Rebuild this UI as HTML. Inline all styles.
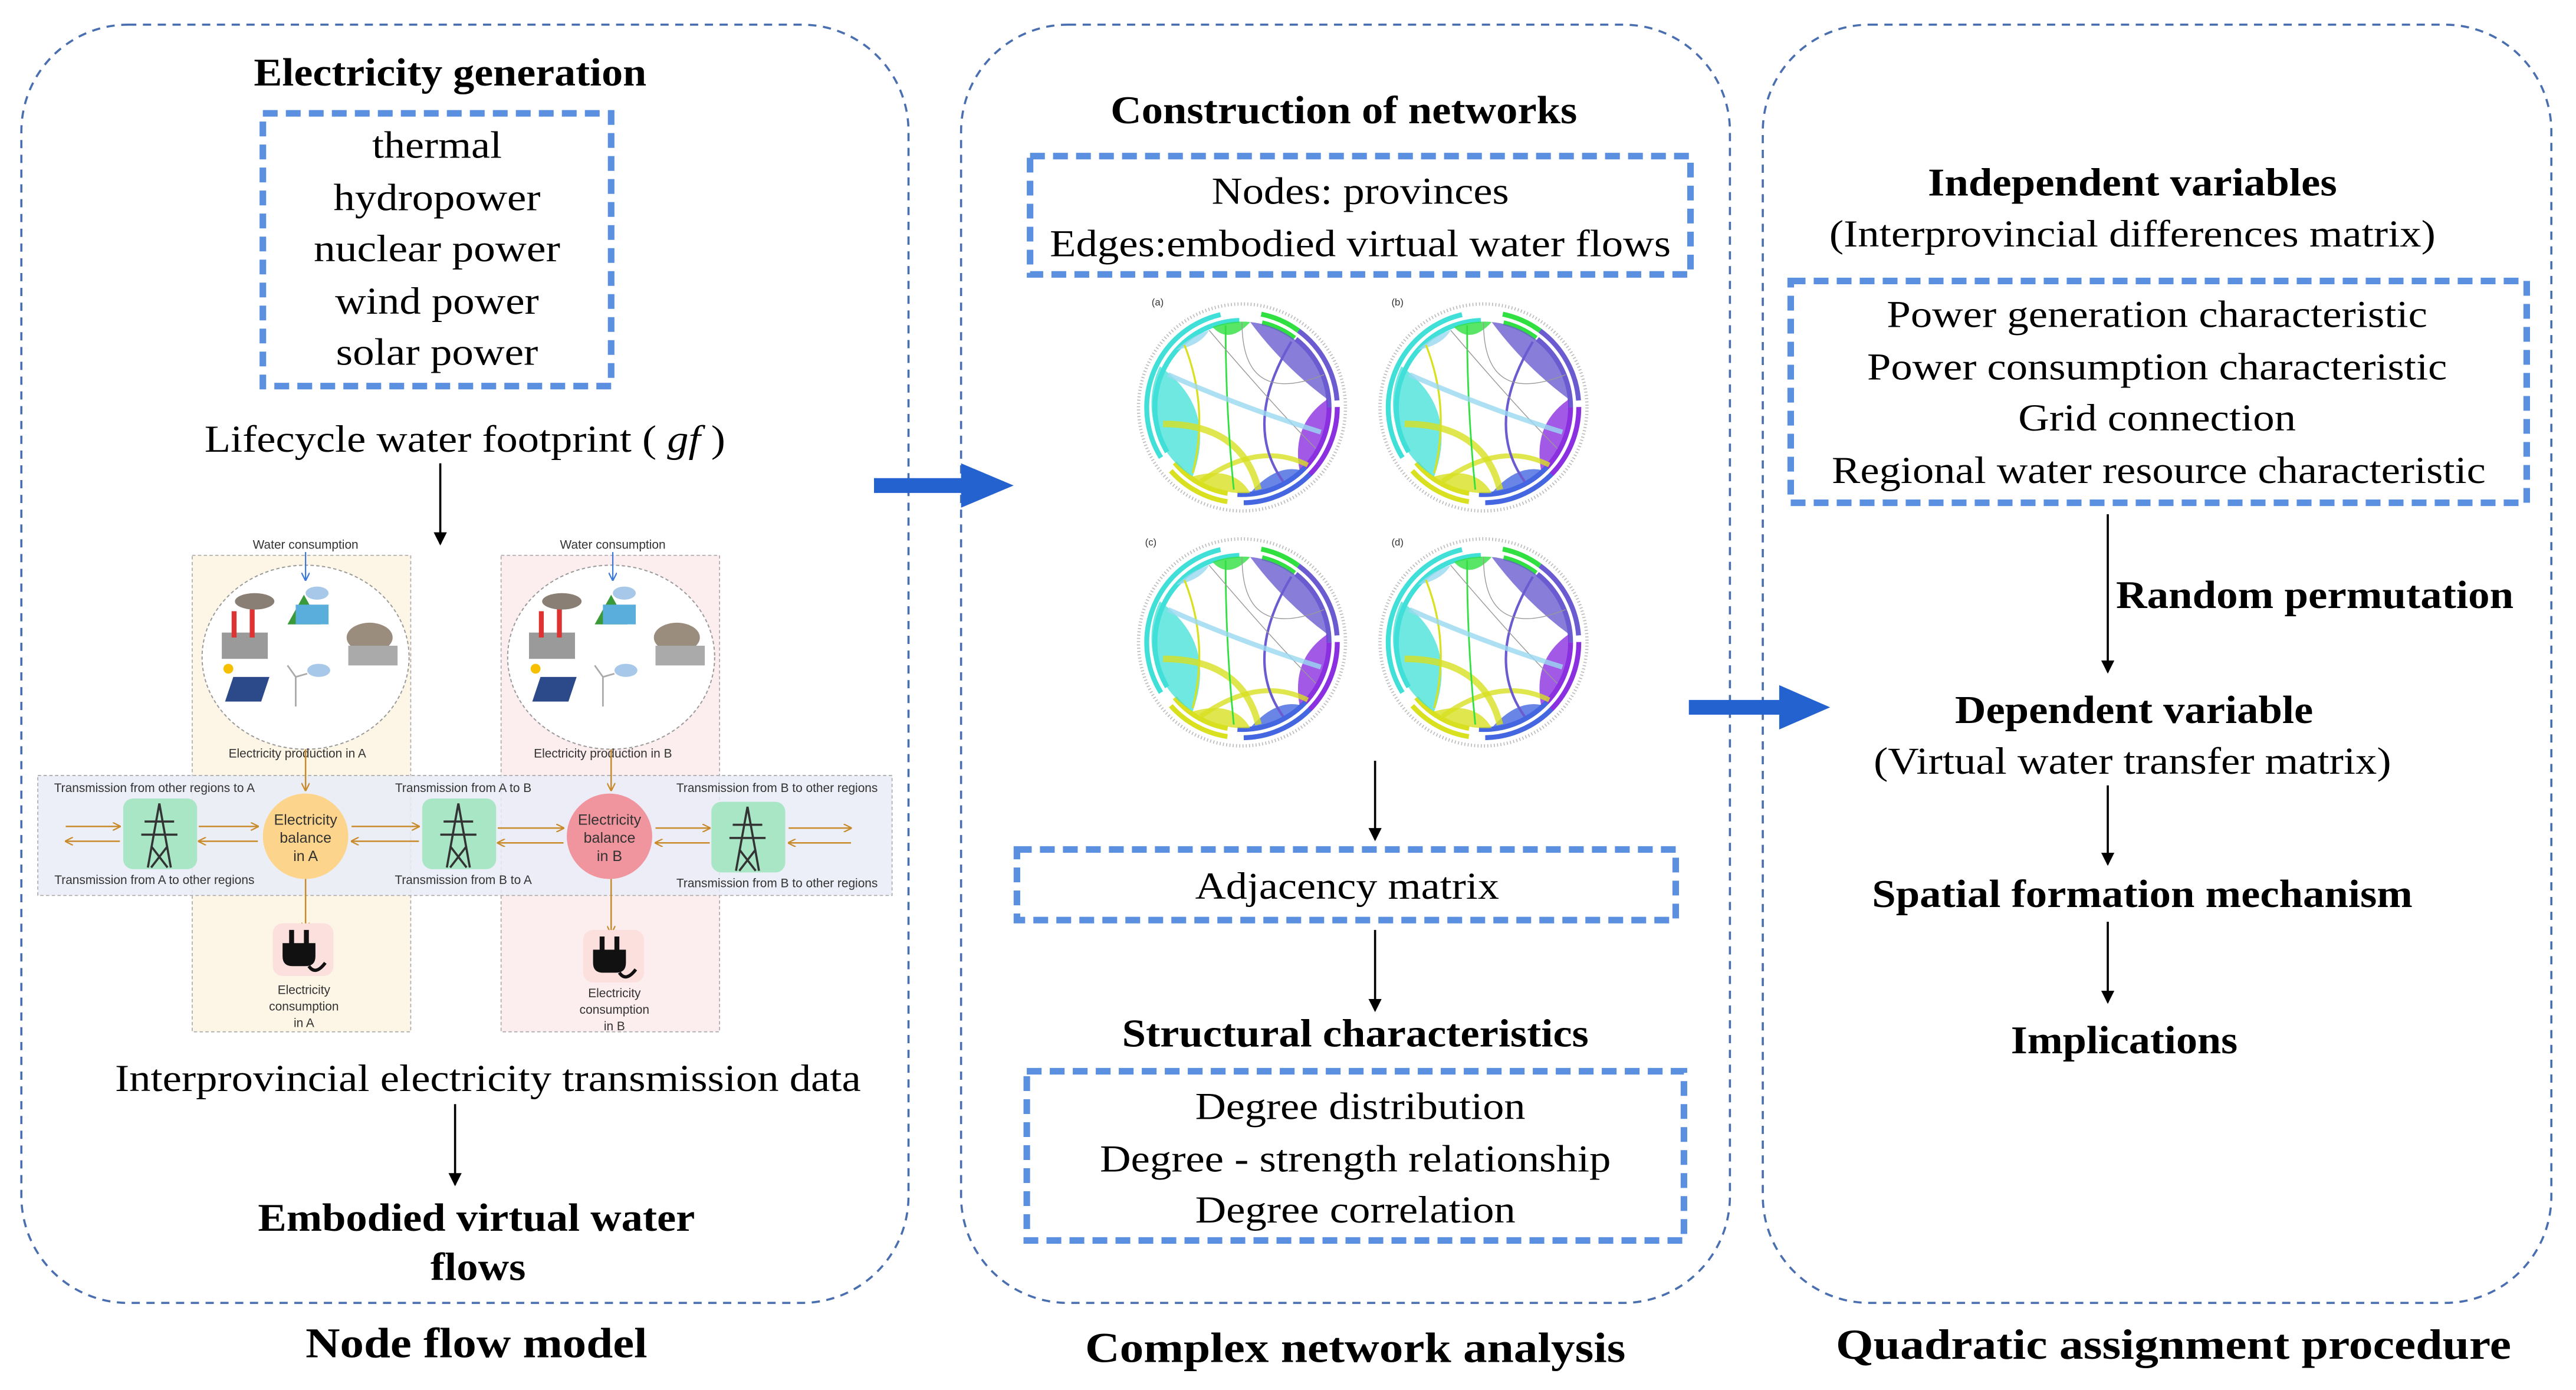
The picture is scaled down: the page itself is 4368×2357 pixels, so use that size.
<!DOCTYPE html>
<html><head><meta charset="utf-8"><style>
html,body{margin:0;padding:0;background:#fff;}
svg{display:block;}
text{font-family:"Liberation Serif",serif;fill:#000;}
.b{font-weight:bold;}
.s{font-family:"Liberation Sans",sans-serif;fill:#333;}
</style></head><body>
<svg width="4368" height="2357" viewBox="0 0 1568 846" preserveAspectRatio="none" xmlns="http://www.w3.org/2000/svg">
<defs>
<marker id="ak" markerWidth="8" markerHeight="8" refX="7" refY="4" orient="auto" markerUnits="userSpaceOnUse"><path d="M0,0 L8,4 L0,8 Z" fill="#000"/></marker>
<marker id="ao" markerWidth="5" markerHeight="5" refX="4.5" refY="2.5" orient="auto" markerUnits="userSpaceOnUse"><path d="M0,0 L5,2.5 L0,5" fill="none" stroke="#c98a2a" stroke-width="0.8"/></marker>
<marker id="ab" markerWidth="5" markerHeight="5" refX="4.5" refY="2.5" orient="auto" markerUnits="userSpaceOnUse"><path d="M0,0 L5,2.5 L0,5" fill="none" stroke="#3c78d8" stroke-width="0.8"/></marker>
<g id="chord">
  <circle r="63" fill="none" stroke="#bbb" stroke-width="2" stroke-dasharray="0.6 1.4"/>
  <circle r="58" fill="none" stroke="#40e0d8" stroke-width="3" stroke-dasharray="110 254" stroke-dashoffset="-150"/>
  <circle r="58" fill="none" stroke="#d8e020" stroke-width="3" stroke-dasharray="40 324" stroke-dashoffset="-100"/>
  <circle r="58" fill="none" stroke="#4466e0" stroke-width="3" stroke-dasharray="50 314" stroke-dashoffset="-40"/>
  <circle r="58" fill="none" stroke="#8a30e0" stroke-width="3" stroke-dasharray="45 319" stroke-dashoffset="0"/>
  <circle r="58" fill="none" stroke="#6a5cd0" stroke-width="3" stroke-dasharray="50 314" stroke-dashoffset="-310"/>
  <circle r="58" fill="none" stroke="#30e040" stroke-width="3" stroke-dasharray="25 339" stroke-dashoffset="-285"/>
  <circle r="53" fill="none" stroke="#40e0d8" stroke-width="3" stroke-dasharray="110 223" stroke-dashoffset="-138"/>
  <circle r="53" fill="none" stroke="#d8e020" stroke-width="3" stroke-dasharray="38 295" stroke-dashoffset="-92"/>
  <circle r="53" fill="none" stroke="#4466e0" stroke-width="3" stroke-dasharray="48 285" stroke-dashoffset="-38"/>
  <circle r="53" fill="none" stroke="#8a30e0" stroke-width="3" stroke-dasharray="40 293" stroke-dashoffset="0"/>
  <circle r="53" fill="none" stroke="#6a5cd0" stroke-width="3" stroke-dasharray="48 285" stroke-dashoffset="-285"/>
  <circle r="53" fill="none" stroke="#30e040" stroke-width="3" stroke-dasharray="22 311" stroke-dashoffset="-262"/>
  <path d="M-50,-25 A52,52 0 0 0 -30,42 Q-15,0 -50,-25Z" fill="#40e0d8" opacity="0.75"/>
  <path d="M-40,-35 A52,52 0 0 1 -20,-47 Q-25,-38 -40,-35Z" fill="#9ad8f0" opacity="0.8"/>
  <path d="M-30,42 A52,52 0 0 0 5,52 Q-5,35 -30,42Z" fill="#d8e020" opacity="0.8"/>
  <path d="M5,52 A52,52 0 0 0 35,38 Q20,35 5,52Z" fill="#4466e0" opacity="0.8"/>
  <path d="M35,38 A52,52 0 0 0 52,-5 Q30,10 35,38Z" fill="#8a30e0" opacity="0.8"/>
  <path d="M52,-5 A52,52 0 0 0 5,-52 Q25,-25 52,-5Z" fill="#6a5cd0" opacity="0.8"/>
  <path d="M5,-52 A52,52 0 0 0 -18,-49 Q-8,-38 5,-52Z" fill="#30e040" opacity="0.8"/>
  <path d="M-48,10 Q0,10 10,50" fill="none" stroke="#d8e020" stroke-width="4" opacity="0.8"/>
  <path d="M-25,45 Q10,20 40,35" fill="none" stroke="#d8e020" stroke-width="3" opacity="0.8"/>
  <path d="M30,-40 Q0,10 25,45" fill="none" stroke="#6a5cd0" stroke-width="1.5"/>
  <path d="M-10,-50 Q-10,0 -5,50" fill="none" stroke="#30e040" stroke-width="1"/>
  <path d="M-35,-38 Q-20,0 -30,40" fill="none" stroke="#d8e020" stroke-width="1.2"/>
  <path d="M-20,-47 Q20,0 45,25" fill="none" stroke="#999" stroke-width="0.5"/>
  <path d="M0,-52 Q0,0 50,-20" fill="none" stroke="#999" stroke-width="0.5"/>
  <path d="M-45,-20 Q0,0 48,15" fill="none" stroke="#9ad8f0" stroke-width="3" opacity="0.8"/>
</g>
</defs>

<g fill="none" stroke="#4a6fb0" stroke-width="1.3" stroke-dasharray="5 4">
<rect x="13" y="15" width="540" height="778" rx="65"/>
<rect x="585" y="15" width="468" height="778" rx="65"/>
<rect x="1073" y="15" width="480" height="778" rx="65"/>
</g>

<path d="M532,291 H585 V282 L617,295.5 L585,309 V300 H532Z" fill="#2462d0"/>
<path d="M1028,426 H1083 V417 L1114,430.5 L1083,444 V435 H1028Z" fill="#2462d0"/>

<text x="274" y="52" text-anchor="middle" class="b" font-size="24" textLength="239" lengthAdjust="spacingAndGlyphs">Electricity generation</text>
<rect x="160" y="69" width="212" height="166" fill="none" stroke="#5b8fe0" stroke-width="4" stroke-dasharray="9 5"/>
<g font-size="23" text-anchor="middle">
<text x="266" y="96" textLength="79" lengthAdjust="spacingAndGlyphs">thermal</text>
<text x="266" y="128" textLength="126" lengthAdjust="spacingAndGlyphs">hydropower</text>
<text x="266" y="159" textLength="150" lengthAdjust="spacingAndGlyphs">nuclear power</text>
<text x="266" y="191" textLength="124" lengthAdjust="spacingAndGlyphs">wind power</text>
<text x="266" y="222" textLength="123" lengthAdjust="spacingAndGlyphs">solar power</text>
<text x="283" y="275" textLength="317" lengthAdjust="spacingAndGlyphs">Lifecycle water footprint ( <tspan font-style="italic">gf</tspan> )</text>
<text x="297" y="664" textLength="454" lengthAdjust="spacingAndGlyphs">Interprovincial electricity transmission data</text>
</g>
<line x1="268" y1="282" x2="268" y2="331" stroke="#000" stroke-width="1.3" marker-end="url(#ak)"/>
<line x1="277" y1="672" x2="277" y2="721" stroke="#000" stroke-width="1.3" marker-end="url(#ak)"/>
<text x="290" y="749" text-anchor="middle" class="b" font-size="24" textLength="266" lengthAdjust="spacingAndGlyphs">Embodied virtual water</text>
<text x="291" y="779" text-anchor="middle" class="b" font-size="24" textLength="58" lengthAdjust="spacingAndGlyphs">flows</text>
<text x="290" y="826" text-anchor="middle" class="b" font-size="26" textLength="208" lengthAdjust="spacingAndGlyphs">Node flow model</text>

<rect x="117" y="338" width="133" height="290" fill="#fdf6e6" stroke="#aaa" stroke-width="0.6" stroke-dasharray="2 1.5"/>
<rect x="305" y="338" width="133" height="290" fill="#fcedee" stroke="#aaa" stroke-width="0.6" stroke-dasharray="2 1.5"/>
<rect x="23" y="472" width="520" height="73" fill="#e9ecf7" fill-opacity="0.85" stroke="#aaa" stroke-width="0.6" stroke-dasharray="2 1.5"/>
<ellipse cx="186" cy="400" rx="63" ry="56" fill="#fff" stroke="#999" stroke-width="0.7" stroke-dasharray="2 1.5"/>
<ellipse cx="372" cy="400" rx="63" ry="56" fill="#fff" stroke="#999" stroke-width="0.7" stroke-dasharray="2 1.5"/>
<g font-size="7.5" class="s" text-anchor="middle">
<text x="186" y="334" class="s">Water consumption</text>
<text x="373" y="334" class="s">Water consumption</text>
<text x="181" y="461" class="s">Electricity production in A</text>
<text x="367" y="461" class="s">Electricity production in B</text>
<text x="94" y="482" class="s">Transmission from other regions to A</text>
<text x="94" y="538" class="s">Transmission from A to other regions</text>
<text x="282" y="482" class="s">Transmission from A to B</text>
<text x="282" y="538" class="s">Transmission from B to A</text>
<text x="473" y="482" class="s">Transmission from B to other regions</text>
<text x="473" y="540" class="s">Transmission from B to other regions</text>
<text x="185" y="605" class="s">Electricity</text>
<text x="185" y="615" class="s">consumption</text>
<text x="185" y="625" class="s">in A</text>
<text x="374" y="607" class="s">Electricity</text>
<text x="374" y="617" class="s">consumption</text>
<text x="374" y="627" class="s">in B</text>
</g>
<line x1="186" y1="336" x2="186" y2="353" stroke="#3c78d8" stroke-width="0.8" marker-end="url(#ab)"/>
<line x1="373" y1="336" x2="373" y2="353" stroke="#3c78d8" stroke-width="0.8" marker-end="url(#ab)"/>
<g id="icons">
<rect x="135" y="385" width="28" height="16" fill="#9a9a9a"/><rect x="141" y="372" width="3" height="16" fill="#d33"/><rect x="152" y="370" width="3" height="18" fill="#d33"/>
<ellipse cx="155" cy="366" rx="12" ry="5" fill="#8a7f74"/>
<polygon points="175,380 185,362 195,380" fill="#3a9a3a"/><rect x="180" y="368" width="20" height="12" fill="#5aaedc"/>
<ellipse cx="193" cy="361" rx="7" ry="4" fill="#a8c8ea"/>
<ellipse cx="225" cy="388" rx="14" ry="9" fill="#9a8d7e"/><rect x="212" y="393" width="30" height="12" fill="#aaa"/>
<polygon points="142,412 164,412 159,427 137,427" fill="#2c4a8a"/>
<circle cx="139" cy="407" r="3" fill="#f6c000"/>
<line x1="180" y1="430" x2="180" y2="412" stroke="#aaa" stroke-width="1"/><line x1="180" y1="412" x2="175" y2="405" stroke="#aaa"/><line x1="180" y1="412" x2="187" y2="410" stroke="#aaa"/>
<ellipse cx="194" cy="408" rx="7" ry="4" fill="#a8c8ea"/>
</g>
<use href="#icons" x="187" y="0"/>
<g stroke="#c98a2a" stroke-width="0.9" fill="none">
<line x1="186" y1="456" x2="186" y2="481" marker-end="url(#ao)"/>
<line x1="372" y1="456" x2="372" y2="481" marker-end="url(#ao)"/>
<line x1="186" y1="535" x2="186" y2="566" marker-end="url(#ao)"/>
<line x1="372" y1="535" x2="372" y2="568" marker-end="url(#ao)"/>
<line x1="40" y1="503" x2="73" y2="503" marker-end="url(#ao)"/><line x1="73" y1="512" x2="40" y2="512" marker-end="url(#ao)"/>
<line x1="121" y1="503" x2="157" y2="503" marker-end="url(#ao)"/><line x1="157" y1="512" x2="121" y2="512" marker-end="url(#ao)"/>
<line x1="214" y1="503" x2="255" y2="503" marker-end="url(#ao)"/><line x1="255" y1="512" x2="214" y2="512" marker-end="url(#ao)"/>
<line x1="303" y1="504" x2="343" y2="504" marker-end="url(#ao)"/><line x1="343" y1="513" x2="303" y2="513" marker-end="url(#ao)"/>
<line x1="399" y1="504" x2="432" y2="504" marker-end="url(#ao)"/><line x1="432" y1="513" x2="399" y2="513" marker-end="url(#ao)"/>
<line x1="480" y1="504" x2="518" y2="504" marker-end="url(#ao)"/><line x1="518" y1="513" x2="480" y2="513" marker-end="url(#ao)"/>
</g>
<rect x="75" y="486" width="45" height="43" rx="6" fill="#a9e6c6"/>
<rect x="257" y="486" width="45" height="43" rx="6" fill="#a9e6c6"/>
<rect x="433" y="488" width="45" height="43" rx="6" fill="#a9e6c6"/>
<g stroke="#333" stroke-width="1.3" fill="none">
<path d="M97,489 L90,528 M97,489 L104,528 M88,500 H106 M86,508 H108 M92,515 L102,528 M102,515 L92,528"/>
<path d="M279,489 L272,528 M279,489 L286,528 M270,500 H288 M268,508 H290 M274,515 L284,528 M284,515 L274,528"/>
<path d="M455,491 L448,530 M455,491 L462,530 M446,502 H464 M444,510 H466 M450,517 L460,530 M460,517 L450,530"/>
</g>
<circle cx="186" cy="509" r="26" fill="#fdd48b"/>
<circle cx="371" cy="509" r="26" fill="#f0949e"/>
<g font-size="9" class="s" text-anchor="middle">
<text x="186" y="502" class="s">Electricity</text><text x="186" y="513" class="s">balance</text><text x="186" y="524" class="s">in A</text>
<text x="371" y="502" class="s">Electricity</text><text x="371" y="513" class="s">balance</text><text x="371" y="524" class="s">in B</text>
</g>
<rect x="166" y="562" width="37" height="32" rx="6" fill="#fbe0dd"/>
<rect x="355" y="566" width="37" height="32" rx="6" fill="#fbe0dd"/>
<g fill="#111">
<path d="M172,574 h20 v8 q0,6 -6,6 h-8 q-6,0 -6,-6Z M176,566 h3 v8 h-3Z M185,566 h3 v8 h-3Z"/>
<path d="M361,578 h20 v8 q0,6 -6,6 h-8 q-6,0 -6,-6Z M365,570 h3 v8 h-3Z M374,570 h3 v8 h-3Z"/>
</g>
<path d="M188,588 q4,6 10,-2" stroke="#111" stroke-width="2" fill="none"/>
<path d="M377,592 q4,6 10,-2" stroke="#111" stroke-width="2" fill="none"/>

<text x="818" y="75" text-anchor="middle" class="b" font-size="24" textLength="284" lengthAdjust="spacingAndGlyphs">Construction of networks</text>
<rect x="627" y="95" width="402" height="72" fill="none" stroke="#5b8fe0" stroke-width="4" stroke-dasharray="9 5"/>
<g font-size="23" text-anchor="middle">
<text x="828" y="124" textLength="181" lengthAdjust="spacingAndGlyphs">Nodes: provinces</text>
<text x="828" y="156" textLength="378" lengthAdjust="spacingAndGlyphs">Edges:embodied virtual water flows</text>
<text x="820" y="547" textLength="185" lengthAdjust="spacingAndGlyphs">Adjacency matrix</text>
<text x="828" y="681" textLength="201" lengthAdjust="spacingAndGlyphs">Degree distribution</text>
<text x="825" y="713" textLength="311" lengthAdjust="spacingAndGlyphs">Degree - strength relationship</text>
<text x="825" y="744" textLength="195" lengthAdjust="spacingAndGlyphs">Degree correlation</text>
</g>
<use href="#chord" x="756" y="248"/>
<use href="#chord" x="903" y="248"/>
<use href="#chord" x="756" y="391"/>
<use href="#chord" x="903" y="391"/>
<g font-size="6" class="s"><text x="701" y="186" class="s">(a)</text><text x="847" y="186" class="s">(b)</text><text x="697" y="332" class="s">(c)</text><text x="847" y="332" class="s">(d)</text></g>
<line x1="837" y1="463" x2="837" y2="511" stroke="#000" stroke-width="1.3" marker-end="url(#ak)"/>
<rect x="619" y="517" width="401" height="43" fill="none" stroke="#5b8fe0" stroke-width="4" stroke-dasharray="9 5"/>
<line x1="837" y1="566" x2="837" y2="615" stroke="#000" stroke-width="1.3" marker-end="url(#ak)"/>
<text x="825" y="637" text-anchor="middle" class="b" font-size="24" textLength="284" lengthAdjust="spacingAndGlyphs">Structural characteristics</text>
<rect x="625" y="652" width="400" height="103" fill="none" stroke="#5b8fe0" stroke-width="4" stroke-dasharray="9 5"/>
<text x="825" y="829" text-anchor="middle" class="b" font-size="26" textLength="329" lengthAdjust="spacingAndGlyphs">Complex network analysis</text>

<text x="1298" y="119" text-anchor="middle" class="b" font-size="24" textLength="249" lengthAdjust="spacingAndGlyphs">Independent variables</text>
<g font-size="23" text-anchor="middle">
<text x="1298" y="150" textLength="369" lengthAdjust="spacingAndGlyphs">(Interprovincial differences matrix)</text>
<text x="1313" y="199" textLength="329" lengthAdjust="spacingAndGlyphs">Power generation characteristic</text>
<text x="1313" y="231" textLength="353" lengthAdjust="spacingAndGlyphs">Power consumption characteristic</text>
<text x="1313" y="262" textLength="169" lengthAdjust="spacingAndGlyphs">Grid connection</text>
<text x="1314" y="294" textLength="398" lengthAdjust="spacingAndGlyphs">Regional water resource characteristic</text>
<text x="1298" y="471" textLength="315" lengthAdjust="spacingAndGlyphs">(Virtual water transfer matrix)</text>
</g>
<rect x="1090" y="171" width="448" height="135" fill="none" stroke="#5b8fe0" stroke-width="4" stroke-dasharray="9 5"/>
<line x1="1283" y1="313" x2="1283" y2="409" stroke="#000" stroke-width="1.3" marker-end="url(#ak)"/>
<text x="1409" y="370" text-anchor="middle" class="b" font-size="24" textLength="242" lengthAdjust="spacingAndGlyphs">Random permutation</text>
<text x="1299" y="440" text-anchor="middle" class="b" font-size="24" textLength="218" lengthAdjust="spacingAndGlyphs">Dependent variable</text>
<line x1="1283" y1="478" x2="1283" y2="526" stroke="#000" stroke-width="1.3" marker-end="url(#ak)"/>
<text x="1304" y="552" text-anchor="middle" class="b" font-size="24" textLength="329" lengthAdjust="spacingAndGlyphs">Spatial formation mechanism</text>
<line x1="1283" y1="561" x2="1283" y2="610" stroke="#000" stroke-width="1.3" marker-end="url(#ak)"/>
<text x="1293" y="641" text-anchor="middle" class="b" font-size="24" textLength="138" lengthAdjust="spacingAndGlyphs">Implications</text>
<text x="1323" y="827" text-anchor="middle" class="b" font-size="26" textLength="411" lengthAdjust="spacingAndGlyphs">Quadratic assignment procedure</text>
</svg>
</body></html>
